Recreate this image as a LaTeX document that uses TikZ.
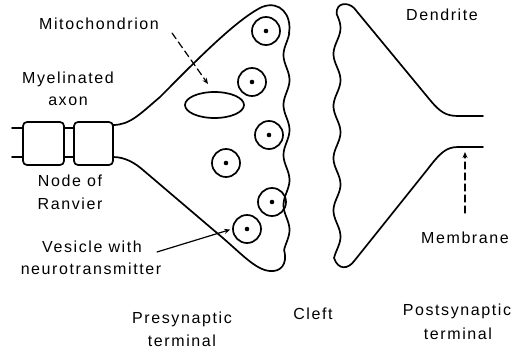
\documentclass[tikz,border=0pt]{standalone}
\usepackage{fontspec}
\setmainfont{Liberation Sans}[LetterSpace=10]
\usetikzlibrary{arrows.meta,shapes.geometric}
\begin{document}
\begin{tikzpicture}[x=1pt,y=-1pt,line width=1.7pt,line join=round,line cap=round,
  lbl/.style={font=\fontsize{16}{18}\selectfont,anchor=base,inner sep=0pt},
  vesicle/.style={circle,draw,minimum size=28pt,inner sep=0pt},
  sheath/.style={draw,rounded corners=4pt,minimum width=41pt,minimum height=43pt,inner sep=0pt},
  lead/.style={line width=1.2pt,-{Stealth[length=6pt,width=5pt]}},
  dashlead/.style={lead,dash pattern=on 7pt off 4pt}]
\useasboundingbox (0,0) rectangle (514,353);

% myelinated axon: two sheath segments joined at the node of Ranvier
\node[sheath] (s1) at (43.5,143.5) {};
\node[sheath,minimum width=39pt] (s2) at (93.5,143.5) {};
\draw (12,128) -- (s1.west |- 0,128);
\draw (12,157) -- (s1.west |- 0,157);
\draw (s1.east |- 0,128) -- (s2.west |- 0,128);
\draw (s1.east |- 0,157) -- (s2.west |- 0,157);

% presynaptic terminal outline with wavy membrane facing the cleft
\draw (113,125) .. controls (130,125) and (140,114) .. (160,97)
  .. controls (190,67) and (235,20) .. (262,7)
  .. controls (280,0) and (292,15) .. (289,33)
  -- plot[domain=33:250,samples=90,variable=\t] ({286.5+3*sin((\t-67.5)*7.2)},\t)
  .. controls (288,265) and (280,272) .. (270,271)
  .. controls (255,270) and (240,252) .. (217,233)
  -- (143,170) .. controls (135,163) and (125,157) .. (113,157);

% postsynaptic terminal (dendrite)
\draw (483,116) -- (458,116) .. controls (446,116) and (440,112) .. (430,100)
  -- (354,8) .. controls (348,2) and (336,2) .. (336.6,14)
  -- plot[domain=14:258,samples=90,variable=\t] ({337+3.5*sin((\t-67)*6.9)},\t)
  .. controls (338,270) and (348,270) .. (355,260)
  -- (427,170) .. controls (440,153) and (446,147) .. (458,147) -- (483,147);

% mitochondrion
\node[draw,ellipse,minimum width=59pt,minimum height=26pt,inner sep=0pt] (mito) at (214.5,105) {};

% synaptic vesicles
\foreach \n/\x/\y in {v1/266/31,v2/252/82,v3/269/135,v4/226/163,v5/272/202,v6/247/229}{
  \node[vesicle] (\n) at (\x,\y) {};
  \fill (\n.center) circle (2.3pt);
}

% labels
\node[lbl] (lmito) at (99,30) {Mitochondrion};
\node[lbl] (lmy1) at (68,83) {Myelinated};
\node[lbl] (lmy2) at (68,106) {axon};
\node[lbl] (lnode1) at (70,186) {Node of};
\node[lbl] (lnode2) at (70,209) {Ranvier};
\node[lbl] (lves1) at (92,252) {Vesicle with};
\node[lbl] (lves2) at (91,274) {neurotransmitter};
\node[lbl] (lpre1) at (182,323) {Presynaptic};
\node[lbl] (lpre2) at (182,346) {terminal};
\node[lbl] (lcleft) at (313,319) {Cleft};
\node[lbl] (lpost1) at (457,315) {Postsynaptic};
\node[lbl] (lpost2) at (458,339) {terminal};
\node[lbl] (lmem) at (465,243) {Membrane};
\node[lbl] (lden) at (442,21) {Dendrite};

% leader lines
\coordinate (mitostart) at (172,33);
\coordinate (mitotip) at (208,84);
\draw[dashlead] (mitostart) -- (mitotip);
\coordinate (vesstart) at (157,252);
\draw[lead,shorten >=2pt] (vesstart) -- (v6.west);
\coordinate (memstart) at (465,213);
\coordinate (memtip) at (465,152);
\draw[dashlead] (memstart) -- (memtip);
\end{tikzpicture}
\end{document}
